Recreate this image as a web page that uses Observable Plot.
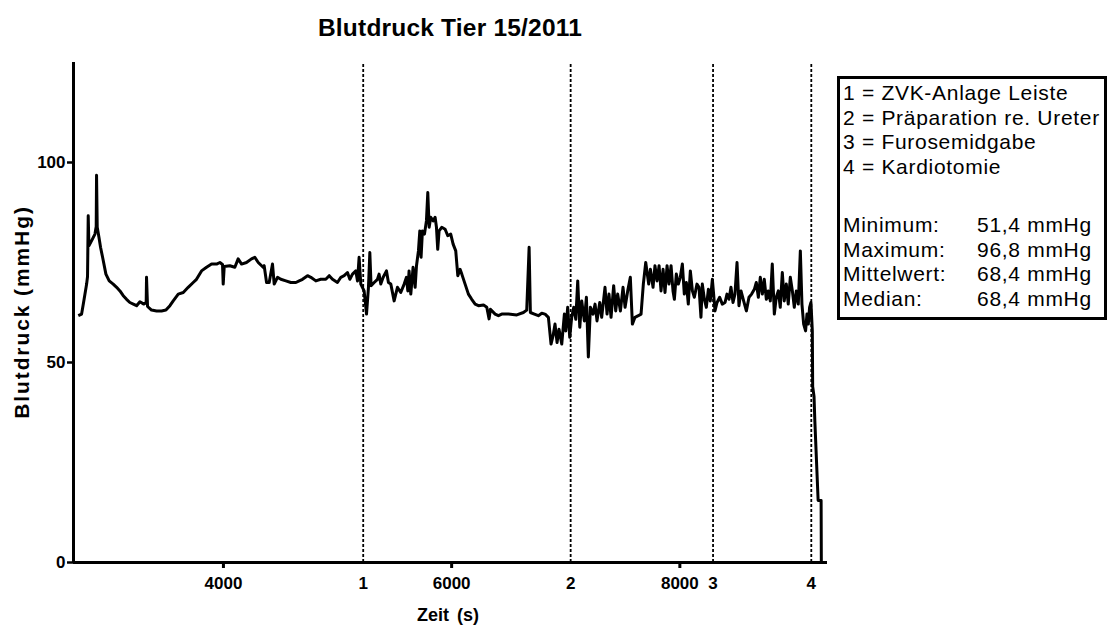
<!DOCTYPE html>
<html>
<head>
<meta charset="utf-8">
<script src="https://cdn.jsdelivr.net/npm/d3@7"></script>
<script src="https://cdn.jsdelivr.net/npm/@observablehq/plot@0.6"></script>
<style>
  body { margin: 0; background: #fff; }
  #chart { position: relative; width: 1112px; height: 628px; background: #fff;
           font-family: "Liberation Sans", Arial, sans-serif; color: #000; }
  #chart svg { position: absolute; left: 0; top: 0; }
  #chart svg text { font-family: "Liberation Sans", Arial, sans-serif; font-size: 17px; font-weight: bold; }
  .title { position: absolute; left: 450px; top: 28px; transform: translate(-50%, -50%);
           font-size: 24.5px; font-weight: bold; letter-spacing: 0.2px; white-space: nowrap; }
  .ylabel { position: absolute; left: 22px; top: 312px; transform: translate(-50%, -50%) rotate(-90deg);
            font-size: 21px; font-weight: bold; letter-spacing: 1.9px; white-space: nowrap; }
  .xlabel { position: absolute; left: 448px; top: 615px; transform: translate(-50%, -50%);
            font-size: 18px; font-weight: bold; word-spacing: 3px; white-space: pre; }
  .legend { position: absolute; left: 837px; top: 76px; width: 264px; height: 238px;
            border: 3px solid #000; background: #fff; font-size: 21px; letter-spacing: 0.7px; }
  .legend .block { position: absolute; left: 3px; }
  .legend .row { height: 24.7px; line-height: 24.7px; white-space: nowrap; }
  .legend .name { display: inline-block; width: 134px; }
</style>
</head>
<body>
<div id="chart"></div>
<script>
// Mean arterial pressure recording (s, mmHg)
const time = [
  2728, 2757, 2772, 2801, 2809, 2815, 2821, 2844, 2874, 2885, 2888, 2894, 2909, 2923, 2941, 2970,
  2999, 3034, 3064, 3093, 3122, 3151, 3180, 3210, 3239, 3268, 3303, 3323, 3326, 3335, 3370, 3414,
  3458, 3496, 3531, 3560, 3604, 3648, 3691, 3735, 3764, 3808, 3852, 3896, 3940, 3969, 3992, 3998,
  4007, 4056, 4100, 4129, 4159, 4202, 4246, 4275, 4305, 4348,
  4357, 4378, 4401, 4430, 4445, 4474, 4503, 4547, 4591, 4635, 4664, 4693, 4737, 4766, 4810, 4853,
  4897, 4927, 4956, 4999, 5029, 5058, 5087, 5108, 5131, 5160, 5175, 5189, 5204, 5233, 5254, 5271,
  5283, 5294, 5321, 5350, 5364, 5379, 5400, 5429, 5446, 5467, 5496, 5525, 5554, 5584, 5604, 5616,
  5627, 5642, 5662, 5680, 5692, 5709, 5721, 5732, 5744, 5762, 5779, 5791, 5803, 5817, 5838, 5855,
  5867, 5878, 5890, 5913, 5943, 5966, 5992, 6013, 6036, 6054,
  6074, 6089, 6118, 6147, 6176, 6206, 6235, 6279, 6308, 6328, 6340, 6381, 6410, 6439, 6498, 6571,
  6629, 6658, 6679, 6690, 6725, 6760, 6790, 6819, 6848, 6871, 6889, 6906, 6924, 6941, 6965, 6988,
  7000, 7017, 7035, 7052, 7070, 7088, 7105, 7123, 7140, 7163, 7181, 7198, 7216, 7239, 7257, 7274,
  7298, 7315, 7344, 7362, 7379, 7397, 7420, 7438, 7455, 7479, 7502, 7520, 7543, 7566, 7584, 7607,
  7636, 7660, 7680, 7701,
  7727, 7742, 7765, 7782, 7800, 7818, 7835, 7853, 7870, 7888, 7905, 7923, 7940, 7952, 7969, 7987,
  8004, 8022, 8039, 8057, 8074, 8092, 8110, 8127, 8150, 8168, 8185, 8197, 8215, 8232, 8250, 8267,
  8285, 8296, 8308, 8326, 8349, 8372, 8396, 8413, 8431, 8448, 8466, 8483, 8501, 8518, 8536, 8559,
  8583, 8606, 8629, 8653, 8670, 8688, 8705, 8723, 8740, 8758, 8775, 8793, 8810, 8828, 8845, 8863,
  8880, 8898, 8915, 8933, 8950, 8968, 8986, 9003, 9021, 9038, 9056, 9070, 9085, 9102, 9114, 9126,
  9137, 9149, 9161, 9164, 9176, 9183, 9212, 9238, 9240
];
const pressure = [
  61.7, 62.1, 64.6, 69.6, 71.5, 86.7, 79.2, 80.4, 82.1, 84.0, 96.8, 83.8, 81.3, 78.8, 76.3, 72.1,
  70.4, 69.6, 68.8, 67.9, 66.7, 65.8, 65.0, 64.6, 64.2, 65.2, 64.6, 65.0, 71.3, 64.0, 63.1, 62.9,
  62.9, 63.1, 64.2, 65.4, 67.1, 67.5, 68.8, 70.0, 70.8, 72.9, 73.8, 74.6, 74.6, 75.0, 74.5, 69.6,
  74.0, 74.2, 73.8, 75.9, 74.6, 75.0, 75.9, 76.3, 75.0, 73.8,
  74.2, 70.0, 70.0, 74.6, 69.6, 71.3, 70.8, 70.4, 70.0, 70.0, 70.4, 70.8, 71.7, 71.3, 70.4, 70.8,
  70.8, 71.7, 70.8, 70.0, 71.3, 71.7, 72.5, 70.8, 72.1, 72.9, 70.4, 76.3, 69.6, 67.9, 62.1, 68.8,
  77.5, 69.2, 70.0, 70.8, 72.1, 69.6, 71.3, 72.9, 70.0, 69.6, 65.4, 68.8, 67.5, 69.6, 71.3, 67.9,
  72.9, 67.1, 73.8, 68.8, 74.2, 77.9, 82.9, 76.3, 82.9, 82.1, 85.4, 92.5, 83.8, 86.3, 85.4, 86.3,
  83.8, 78.3, 82.9, 83.8, 83.3, 81.7, 82.1, 79.6, 77.9, 71.7,
  73.3, 72.1, 69.6, 67.1, 65.8, 64.6, 64.2, 64.4, 63.8, 60.9, 63.3, 62.1, 61.7, 62.1, 62.1, 61.9,
  62.5, 63.1, 78.8, 62.5, 62.1, 61.7, 62.3, 62.1, 61.3, 54.6, 56.7, 59.6, 55.0, 58.3, 54.6, 62.1,
  57.9, 63.8, 56.3, 61.3, 63.8, 60.8, 70.4, 58.8, 65.4, 60.4, 66.3, 51.4, 63.8, 62.1, 64.6, 60.4,
  65.0, 61.3, 68.8, 62.1, 67.1, 61.3, 69.2, 62.9, 67.1, 62.9, 68.8, 63.8, 67.9, 71.3, 59.6, 61.3,
  61.7, 62.1, 69.6, 75.0,
  69.6, 73.3, 68.8, 74.2, 70.4, 74.2, 67.9, 73.3, 67.5, 74.2, 69.6, 74.2, 67.9, 65.8, 72.1, 69.6,
  71.3, 74.6, 67.1, 70.0, 64.6, 72.9, 67.9, 66.3, 69.6, 68.8, 61.3, 69.6, 65.8, 63.8, 68.3, 65.4,
  70.8, 67.1, 62.9, 65.0, 66.3, 64.6, 65.0, 67.1, 65.8, 68.8, 65.0, 67.1, 75.0, 64.2, 67.9, 65.4,
  62.9, 66.3, 67.1, 68.3, 70.0, 66.3, 71.3, 67.1, 70.8, 65.8, 67.9, 65.4, 74.6, 62.1, 66.3, 67.9,
  63.8, 72.5, 65.4, 69.6, 64.6, 71.3, 67.9, 63.8, 67.9, 64.6, 77.9, 64.6, 59.6, 57.9, 62.1, 59.6,
  63.8, 65.0, 57.9, 44.0, 41.5, 35.4, 15.5, 15.5, 0
];

// Interventions marked on the time axis
const eventTimes = [5225, 7043, 8291, 9152];
const eventLabels = ["1", "2", "3", "4"];
const eventNames = ["ZVK-Anlage Leiste", "Präparation re. Ureter", "Furosemidgabe", "Kardiotomie"];

// Summary statistics
const statNames = ["Minimum:", "Maximum:", "Mittelwert:", "Median:"];
const statValues = [51.4, 96.8, 68.4, 68.4];

const timeTicks = [4000, 6000, 8000];
const pressureTicks = [0, 50, 100];
const timeDomain = [2686, 9294];
const pressureDomain = [0, 125];

const titleText = "Blutdruck Tier 15/2011";
const xLabelText = "Zeit (s)";
const yLabelText = "Blutdruck (mmHg)";

const series = time.map((t, i) => ({t, p: pressure[i]}));
const eventLabelOf = new Map(eventTimes.map((t, i) => [t, eventLabels[i]]));
const fmtComma = v => d3.format(".1f")(v).replace(".", ",");

const chart = document.getElementById("chart");

const plot = Plot.plot({
  width: 1112,
  height: 628,
  marginLeft: 73,
  marginRight: 285,
  marginTop: 62,
  marginBottom: 66,
  x: {domain: timeDomain},
  y: {domain: pressureDomain},
  style: {fontFamily: "'Liberation Sans', Arial, sans-serif", background: "transparent", color: "#000"},
  marks: [
    Plot.ruleX(eventTimes, {y1: pressureDomain[0], y2: pressureDomain[1], stroke: "#000", strokeWidth: 1.8, strokeDasharray: "3,2"}),
    Plot.line(series, {x: "t", y: "p", stroke: "#000", strokeWidth: 3, strokeLinejoin: "round", strokeLinecap: "butt"}),
    Plot.ruleX([timeDomain[0]], {y1: pressureDomain[0], y2: pressureDomain[1], stroke: "#000", strokeWidth: 3}),
    Plot.ruleY([0], {stroke: "#000", strokeWidth: 3}),
    Plot.axisY(pressureTicks, {tickSize: 6, tickPadding: 2, strokeWidth: 2.5, label: null}),
    Plot.axisX(timeTicks, {tickSize: 6, tickPadding: 8, strokeWidth: 3, tickFormat: d3.format("d"), label: null}),
    Plot.axisX(eventTimes, {tickSize: 0, tickPadding: 14, tickFormat: d => eventLabelOf.get(d), label: null})
  ]
});
chart.appendChild(plot);

function addDiv(cls, text) {
  const el = document.createElement("div");
  el.className = cls;
  el.textContent = text;
  chart.appendChild(el);
  return el;
}
addDiv("title", titleText);
addDiv("ylabel", yLabelText);
addDiv("xlabel", xLabelText);

const legend = addDiv("legend", "");
const block1 = document.createElement("div");
block1.className = "block";
block1.style.top = "2px";
eventNames.forEach((name, i) => {
  const row = document.createElement("div");
  row.className = "row";
  row.textContent = `${eventLabels[i]} = ${name}`;
  block1.appendChild(row);
});
legend.appendChild(block1);

const block2 = document.createElement("div");
block2.className = "block";
block2.style.top = "134px";
statNames.forEach((name, i) => {
  const row = document.createElement("div");
  row.className = "row";
  const n = document.createElement("span");
  n.className = "name";
  n.textContent = name;
  const v = document.createElement("span");
  v.textContent = `${fmtComma(statValues[i])} mmHg`;
  row.appendChild(n);
  row.appendChild(v);
  block2.appendChild(row);
});
legend.appendChild(block2);
</script>
</body>
</html>
